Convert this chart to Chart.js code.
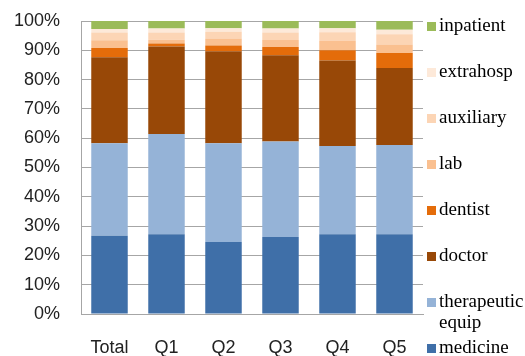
<!DOCTYPE html>
<html>
<head>
<meta charset="utf-8">
<script src="https://cdn.jsdelivr.net/npm/chart.js@4.4.1/dist/chart.umd.min.js"></script>
<style>
  html, body { margin: 0; padding: 0; background: #ffffff; }
  #wrap { position: relative; width: 525px; height: 356px; }
</style>
</head>
<body>
<div id="wrap"><canvas id="c" width="525" height="356"></canvas></div>
<script>
const categories = ["Total", "Q1", "Q2", "Q3", "Q4", "Q5"];
const medicine    = [26.7, 27.2, 24.6, 26.3, 27.2, 27.2];
const therapeutic = [31.6, 34.2, 33.7, 32.6, 30.1, 30.5];
const doctor      = [29.3, 29.9, 31.4, 29.4, 29.2, 26.3];
const dentist     = [3.2, 1.0, 1.9, 2.8, 3.5, 5.1];
const lab         = [2.6, 1.3, 2.4, 2.4, 3.2, 2.9];
const auxiliary   = [2.7, 2.5, 2.3, 2.6, 3.0, 3.5];
const extrahosp   = [1.2, 1.3, 1.2, 1.3, 1.3, 1.5];
const inpatient   = [2.7, 2.6, 2.5, 2.6, 2.5, 3.0];
const yTicks = [0, 10, 20, 30, 40, 50, 60, 70, 80, 90, 100];

const seriesNames = ["medicine", "therapeutic equip", "doctor", "dentist", "lab", "auxiliary", "extrahosp", "inpatient"];
const seriesData = [medicine, therapeutic, doctor, dentist, lab, auxiliary, extrahosp, inpatient];
const seriesColors = ["#3F6FA8", "#95B3D7", "#984807", "#E46C0A", "#FAC090", "#FCD5B5", "#FDE9D9", "#9BBB59"];

const datasets = seriesNames.map((n, i) => ({
  label: n,
  data: seriesData[i],
  backgroundColor: seriesColors[i],
  borderWidth: 0,
  categoryPercentage: 1.0,
  barPercentage: 0.64
}));

const legendPlugin = {
  id: 'sideLegend',
  afterDraw(chart) {
    const ctx = chart.ctx;
    ctx.save();
    ctx.font = '19px "Liberation Serif", "Times New Roman", serif';
    ctx.textBaseline = 'alphabetic';
    ctx.fillStyle = '#000000';
    const x0 = 427;
    const n = chart.data.datasets.length;
    for (let k = 0; k < n; k++) {
      const ds = chart.data.datasets[n - 1 - k];
      const yc = 25 + k * 46;
      const parts = ds.label === 'therapeutic equip' ? ['therapeutic', 'equip'] : [ds.label];
      const base = yc + 6;
      ctx.fillStyle = ds.backgroundColor;
      ctx.fillRect(x0, base - 9, 9, 9);
      ctx.fillStyle = '#000000';
      parts.forEach((p, j) => ctx.fillText(p, x0 + 12, base + j * 21));
    }
    ctx.restore();
  }
};

new Chart(document.getElementById('c'), {
  type: 'bar',
  data: { labels: categories, datasets },
  options: {
    responsive: false,
    animation: false,
    layout: { padding: { top: 21, right: 102, left: 0, bottom: 0 } },
    plugins: { legend: { display: false }, tooltip: { enabled: false } },
    scales: {
      x: {
        stacked: true,
        grid: { display: false, drawTicks: false },
        border: { display: true, color: '#A6A6A6', width: 1 },
        ticks: { color: '#222222', font: { family: '"Liberation Sans", Arial, sans-serif', size: 18 }, padding: 23 },
        afterFit(s) { s.height = 42; s.paddingLeft = 0; s.paddingRight = 0; }
      },
      y: {
        stacked: true,
        min: 0,
        max: 100,
        afterBuildTicks(s) { s.ticks = yTicks.map(v => ({ value: v })); },
        grid: { color: '#A6A6A6', lineWidth: 1, drawTicks: false },
        border: { display: true, color: '#A6A6A6', width: 1 },
        ticks: {
          color: '#222222',
          font: { family: '"Liberation Sans", Arial, sans-serif', size: 18 },
          padding: 21,
          callback: v => v + '%'
        },
        afterFit(s) { s.width = 81; s.paddingTop = 0; s.paddingBottom = 0; }
      }
    }
  },
  plugins: [legendPlugin]
});
</script>
</body>
</html>
